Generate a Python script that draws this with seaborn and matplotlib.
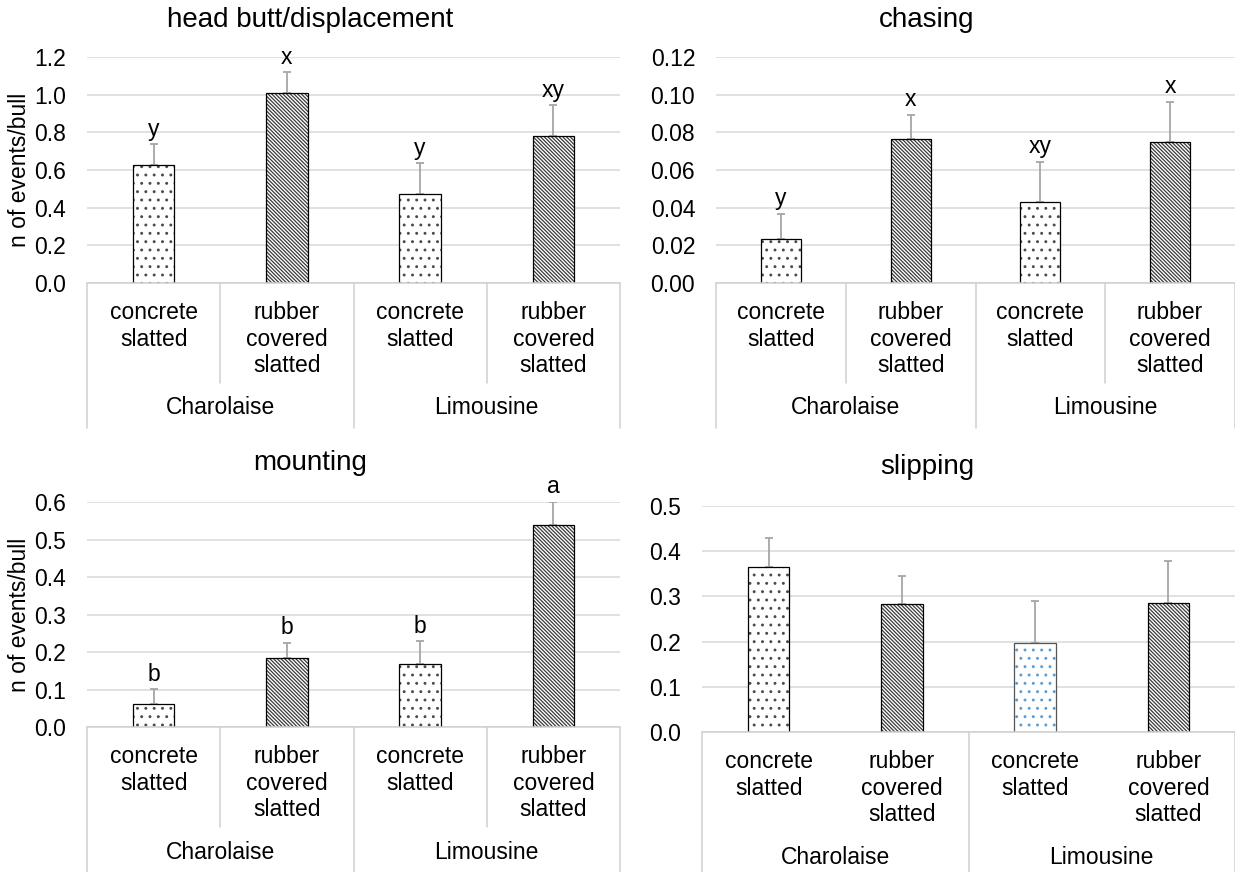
import numpy as np
import pandas as pd
import seaborn as sns
import matplotlib
import matplotlib.pyplot as plt
from matplotlib.patches import Rectangle
from matplotlib.transforms import blended_transform_factory

matplotlib.use("Agg")

# ─── data ─────────────────────────────────────────────────────────
BREEDS = ["Charolaise", "Limousine"]
FLOORS = ["concrete\nslatted", "rubber\ncovered\nslatted"]

HEADBUTT_MEAN = [0.626, 1.009, 0.471, 0.780]
HEADBUTT_SE   = [0.110, 0.111, 0.164, 0.166]
HEADBUTT_LET  = ["y", "x", "y", "xy"]

CHASING_MEAN = [0.0233, 0.0762, 0.0431, 0.0748]
CHASING_SE   = [0.0136, 0.0131, 0.0213, 0.0214]
CHASING_LET  = ["y", "x", "xy", "x"]

MOUNTING_MEAN = [0.061, 0.185, 0.167, 0.539]
MOUNTING_SE   = [0.040, 0.040, 0.062, 0.062]
MOUNTING_LET  = ["b", "b", "b", "a"]

SLIPPING_MEAN = [0.364, 0.284, 0.198, 0.286]
SLIPPING_SE   = [0.065, 0.062, 0.092, 0.092]
SLIPPING_LET  = ["", "", "", ""]

# ─── style ────────────────────────────────────────────────────────
sns.set_style("white")
plt.rcParams["font.family"] = ["Liberation Sans", "DejaVu Sans"]
plt.rcParams.update({"text.color": "black", "axes.labelcolor": "black",
                     "xtick.color": "black", "ytick.color": "black",
                     "hatch.linewidth": 0.9})
FS = 16.5
GRID = "#D9D9D9"
AXC = "#D0D0D0"
ERRC = "#A6A6A6"
HATCHES = ["..", "\\" * 9]
GREYH = "#3A3A3A"
DOTS = "#4A4A4A"
BLUE = "#5B9BD5"

W, H = 1235, 872
fig = plt.figure(figsize=(W / 100, H / 100), dpi=100)


def add_ax(left, right, top, bottom):
    return fig.add_axes([left / W, 1 - bottom / H, (right - left) / W, (bottom - top) / H])


panels = [
    dict(title="head butt/displacement", mean=HEADBUTT_MEAN, se=HEADBUTT_SE, let=HEADBUTT_LET,
         box=(87, 620, 57, 283), ymax=1.2, step=0.2, fmt="{:.1f}", ylabel=True,
         tx=310, ty=27, short=True, hcol=[DOTS, GREYH, DOTS, GREYH]),
    dict(title="chasing", mean=CHASING_MEAN, se=CHASING_SE, let=CHASING_LET,
         box=(716, 1235, 57, 283), ymax=0.12, step=0.02, fmt="{:.2f}", ylabel=False,
         tx=927, ty=27, short=True, hcol=[DOTS, GREYH, DOTS, GREYH]),
    dict(title="mounting", mean=MOUNTING_MEAN, se=MOUNTING_SE, let=MOUNTING_LET,
         box=(87, 620, 502, 727), ymax=0.6, step=0.1, fmt="{:.1f}", ylabel=True,
         tx=310, ty=470, short=True, hcol=[DOTS, GREYH, DOTS, GREYH]),
    dict(title="slipping", mean=SLIPPING_MEAN, se=SLIPPING_SE, let=SLIPPING_LET,
         box=(702, 1235, 506, 732), ymax=0.5, step=0.1, fmt="{:.1f}", ylabel=False,
         tx=927, ty=474, short=False, hcol=[DOTS, GREYH, BLUE, GREYH]),
]

groups = [f"{b}|{f}" for b in BREEDS for f in FLOORS]

for p in panels:
    ax = add_ax(*p["box"])
    df = pd.DataFrame({"group": groups, "mean": p["mean"], "se": p["se"]})

    sns.barplot(data=df, x="group", y="mean", color="white", width=0.31,
                errorbar=None, ax=ax, zorder=1)

    # hatches + separate black outline
    for i, bar in enumerate(list(ax.patches)):
        bar.set_hatch(HATCHES[i % 2])
        bar.set_edgecolor(p["hcol"][i])
        bar.set_linewidth(0)
        edge = "#555555" if p["hcol"][i] == BLUE else "black"
        ax.add_patch(Rectangle(bar.get_xy(), bar.get_width(), bar.get_height(),
                               fill=False, ec=edge, lw=0.9, zorder=1.1))

    xs = np.arange(len(df))
    ax.errorbar(xs, df["mean"], yerr=[np.zeros(len(df)), df["se"]], fmt="none",
                ecolor=ERRC, elinewidth=1.3, capsize=2.6, capthick=1.3, zorder=0.9)

    for x, m, s, lt in zip(xs, df["mean"], df["se"], p["let"]):
        if lt:
            ax.annotate(lt, (x, m + s), xytext=(0, 6), textcoords="offset points",
                        ha="center", va="baseline", fontsize=FS)

    ax.set_ylim(0, p["ymax"])
    ticks = np.linspace(0, p["ymax"], int(round(p["ymax"] / p["step"])) + 1)
    ax.set_yticks(ticks)
    ax.set_yticklabels([p["fmt"].format(t) for t in ticks])
    ax.set_xlim(-0.5, 3.5)
    ax.set_xticks(xs)
    ax.set_xticklabels(FLOORS * 2, linespacing=1.2)
    ax.tick_params(axis="x", length=0, pad=13, labelsize=FS)
    ax.tick_params(axis="y", length=0, pad=15, labelsize=FS)
    ax.set_xlabel("")
    ax.yaxis.grid(True, color=GRID, lw=1.1)
    ax.set_axisbelow(True)
    sns.despine(ax=ax, left=True, bottom=True)

    # multi-level category axis (Excel style)
    trans = blended_transform_factory(ax.transData, ax.transAxes)
    ax_h = p["box"][3] - p["box"][2]
    long_len = 145 / ax_h
    short_len = 100 / ax_h
    ax.plot([-0.5, 3.5], [0, 0], transform=trans, color=AXC, lw=1.1, clip_on=False)
    for xv in [-0.5, 1.5, 3.5]:
        ax.plot([xv, xv], [0, -long_len], transform=trans, color=AXC, lw=1.1, clip_on=False)
    if p["short"]:
        for xv in [0.5, 2.5]:
            ax.plot([xv, xv], [0, -short_len], transform=trans, color=AXC, lw=1.1, clip_on=False)
    for j, breed in enumerate(BREEDS):
        ax.text(2 * j + 0.5, -125 / ax_h, breed, transform=trans, ha="center",
                va="center", fontsize=FS)

    if p["ylabel"]:
        ax.set_ylabel("n of events/bull", fontsize=FS)
        ax.yaxis.set_label_coords(-0.105, 0.5)
    else:
        ax.set_ylabel("")

    fig.text(p["tx"] / W, 1 - p["ty"] / H, p["title"], ha="center", va="baseline", fontsize=20)

fig.savefig("out.png", dpi=100)
